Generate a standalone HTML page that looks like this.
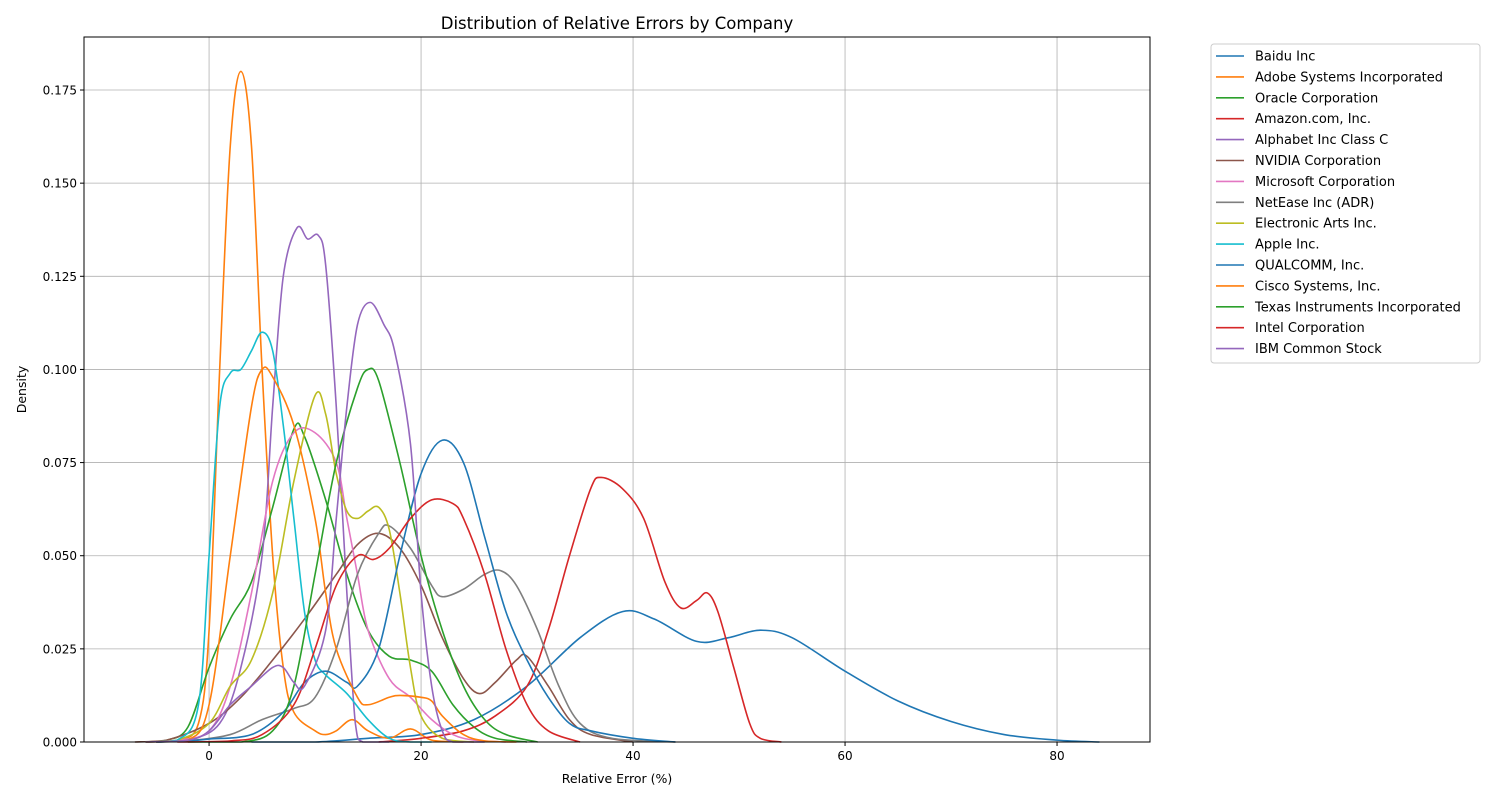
<!DOCTYPE html>
<html><head><meta charset="utf-8"><style>
body{margin:0;background:#fff;font-family:"DejaVu Sans","Liberation Sans",sans-serif}
svg text{font-family:"DejaVu Sans","Liberation Sans",sans-serif}
</style></head><body>
<svg id="chart" width="1500" height="800" xmlns="http://www.w3.org/2000/svg">
<rect width="1500" height="800" fill="#fff"/>
<g id="grid"></g><g id="series"></g><g id="axes"></g><g id="legend"></g>
</svg>
<script>
const companies=["Baidu Inc","Adobe Systems Incorporated","Oracle Corporation","Amazon.com, Inc.","Alphabet Inc Class C","NVIDIA Corporation","Microsoft Corporation","NetEase Inc (ADR)","Electronic Arts Inc.","Apple Inc.","QUALCOMM, Inc.","Cisco Systems, Inc.","Texas Instruments Incorporated","Intel Corporation","IBM Common Stock"];
const colors=["#1f77b4","#ff7f0e","#2ca02c","#d62728","#9467bd","#8c564b","#e377c2","#7f7f7f","#bcbd22","#17becf","#1f77b4","#ff7f0e","#2ca02c","#d62728","#9467bd"];
const xTicks=[0,20,40,60,80];
const yTicks=[0,0.025,0.05,0.075,0.1,0.125,0.15,0.175];
const yTickLabels=["0.000","0.025","0.050","0.075","0.100","0.125","0.150","0.175"];
const xs0=[4,10,15,20,25,30,35,39,42,46,49,52,55,60,65,70,75,80,84];
const ys0=[0,0,0.001,0.002,0.006,0.015,0.028,0.035,0.033,0.027,0.028,0.030,0.028,0.019,0.011,0.0055,0.002,0.0005,0];
const xs1=[-5,-3,-1,0,1,2,3,4,5,6,7,8,10,11,12,13.5,15,17,19,21,24];
const ys1=[0,0.0005,0.005,0.03,0.1,0.16,0.18,0.16,0.1,0.05,0.02,0.008,0.003,0.002,0.003,0.006,0.003,0.001,0.0035,0.0005,0];
const xs2=[-6,-4,-2,0,2,4,6,8,9,11,13,15,17,19,21,23,25,27,30];
const ys2=[0,0.0005,0.004,0.02,0.033,0.043,0.063,0.084,0.082,0.065,0.045,0.03,0.023,0.022,0.019,0.01,0.004,0.001,0];
const xs3=[16,20,24,27,30,32,34,36,37,39,41,43,44.5,46,47,48,49.5,51,52,54];
const ys3=[0,0.001,0.003,0.007,0.015,0.03,0.05,0.068,0.071,0.068,0.06,0.043,0.036,0.038,0.04,0.035,0.02,0.005,0.001,0];
const xs4=[-5,-2,1,3,5,6,7,8.3,9.3,10.3,11,12,13,13.8,14.5,17];
const ys4=[0,0.0005,0.005,0.02,0.05,0.09,0.125,0.138,0.135,0.136,0.128,0.09,0.04,0.005,0,0];
const xs5=[-7,-4,0,3,6,9,12,14,16,18,20,22,24,25.5,27,29,30,32,34,36,40];
const ys5=[0,0.0005,0.005,0.012,0.022,0.033,0.045,0.053,0.056,0.052,0.042,0.028,0.017,0.013,0.016,0.022,0.023,0.015,0.006,0.002,0];
const xs6=[-6,-3,0,2,4,6,8,10,12,13,14,15,17,19,21,23,25,28];
const ys6=[0,0.0005,0.003,0.015,0.04,0.07,0.083,0.083,0.075,0.06,0.045,0.03,0.017,0.012,0.006,0.002,0.0005,0];
const xs7=[-5,-2,2,5,8,10,12,14,16,17,19,21,22,24,26,27.5,29,31,33,35,38,44];
const ys7=[0,0.0003,0.002,0.006,0.009,0.012,0.025,0.045,0.056,0.058,0.052,0.042,0.039,0.041,0.045,0.046,0.042,0.03,0.015,0.005,0.001,0];
const xs8=[-6,-3,0,2,4,6,8,10,11,12,13,14,15,16,17,18,19,20,22,25];
const ys8=[0,0.0005,0.005,0.015,0.022,0.04,0.07,0.093,0.088,0.072,0.062,0.06,0.062,0.063,0.057,0.04,0.02,0.007,0.001,0];
const xs9=[-6,-3,-1,0,1,2,3,4,5,6,7,8,9,10,11,13,15,17,19,21];
const ys9=[0,0.0005,0.01,0.05,0.09,0.099,0.1,0.105,0.11,0.105,0.085,0.06,0.035,0.022,0.018,0.013,0.006,0.001,0,0];
const xs10=[-5,-2,0,4,7,9,11,13,14,16,18,20,22,24,26,28,30,32,34,36,40,44];
const ys10=[0,0.0003,0.0008,0.002,0.008,0.016,0.019,0.016,0.015,0.025,0.05,0.072,0.081,0.075,0.055,0.035,0.022,0.012,0.005,0.003,0.001,0];
const xs11=[-6,-2,0,2,4,5,6,8,10,11,12,14,15,17,18,20,21,22,24,26,29];
const ys11=[0,0.0005,0.01,0.05,0.09,0.1,0.098,0.085,0.06,0.04,0.025,0.012,0.01,0.012,0.0125,0.012,0.011,0.007,0.002,0.0003,0];
const xs12=[-2,3,6,8,10,12,14,15,16,18,20,22,24,26,28,31];
const ys12=[0,0,0.003,0.015,0.045,0.075,0.095,0.1,0.097,0.075,0.05,0.03,0.015,0.006,0.002,0];
const xs13=[-3,2,5,8,10,12,14,15.5,17,19,21,23,24,26,28,30,32,35];
const ys13=[0,0.0003,0.002,0.01,0.025,0.042,0.05,0.049,0.052,0.06,0.065,0.064,0.06,0.045,0.025,0.01,0.003,0];
const xs14=[-6,-2,0,2,4,6,7,8,9,11,12,13,14,15.2,16.5,17.5,19,20,21,22,23,26];
const ys14=[0,0.0005,0.003,0.01,0.015,0.02,0.02,0.016,0.015,0.03,0.06,0.09,0.112,0.118,0.112,0.105,0.08,0.04,0.015,0.003,0,0];
const seriesX=[xs0,xs1,xs2,xs3,xs4,xs5,xs6,xs7,xs8,xs9,xs10,xs11,xs12,xs13,xs14];
const seriesY=[ys0,ys1,ys2,ys3,ys4,ys5,ys6,ys7,ys8,ys9,ys10,ys11,ys12,ys13,ys14];

const L=84,R=1150,T=37,B=742;
const xMin=-11.8,xMax=88.77,yMin=0,yMax=0.18923;
const sx=v=>L+(v-xMin)/(xMax-xMin)*(R-L);
const sy=v=>B-(v-yMin)/(yMax-yMin)*(B-T);
const NS="http://www.w3.org/2000/svg";
function mk(tag,attrs,parent){const e=document.createElementNS(NS,tag);for(const k in attrs)e.setAttribute(k,attrs[k]);parent.appendChild(e);return e;}
const grid=document.getElementById('grid'),axes=document.getElementById('axes'),ser=document.getElementById('series'),leg=document.getElementById('legend');
xTicks.forEach(t=>{
  const g=mk('line',{x1:sx(t),x2:sx(t),y1:T,y2:B,stroke:'#b0b0b0','stroke-width':0.8},grid);
  
  
  mk('line',{x1:sx(t),x2:sx(t),y1:B,y2:B+4,stroke:'#000'},axes);
  const tx=mk('text',{x:sx(t),y:B+18,'text-anchor':'middle','font-size':12},axes);tx.textContent=t;
  
  
});
yTicks.forEach((t,i)=>{
  const g=mk('line',{x1:L,x2:R,y1:sy(t),y2:sy(t),stroke:'#b0b0b0','stroke-width':0.8},grid);
  
  
  mk('line',{x1:L-4,x2:L,y1:sy(t),y2:sy(t),stroke:'#000'},axes);
  const tx=mk('text',{x:L-7,y:sy(t)+4.5,'text-anchor':'end','font-size':12},axes);tx.textContent=yTickLabels[i];
  
  
});
const fr=mk('rect',{x:L,y:T,width:R-L,height:B-T,fill:'none',stroke:'#000','stroke-width':1},axes);


const ti=mk('text',{x:(L+R)/2,y:29,'text-anchor':'middle','font-size':16.5},axes);ti.textContent='Distribution of Relative Errors by Company';


const xl=mk('text',{x:(L+R)/2,y:783,'text-anchor':'middle','font-size':12.5},axes);xl.textContent='Relative Error (%)';


const yl=mk('text',{x:26,y:(T+B)/2,'text-anchor':'middle','font-size':12.5,transform:`rotate(-90 26 ${(T+B)/2})`},axes);yl.textContent='Density';



function pathFor(xs,ys){
  const p=xs.map((x,i)=>[sx(x),sy(ys[i])]);
  let d=`M${p[0][0]},${p[0][1]}`;
  for(let i=0;i<p.length-1;i++){
    const p0=p[Math.max(0,i-1)],p1=p[i],p2=p[i+1],p3=p[Math.min(p.length-1,i+2)];
    const c1x=p1[0]+(p2[0]-p0[0])/6,c1y=Math.min(B,p1[1]+(p2[1]-p0[1])/6);
    const c2x=p2[0]-(p3[0]-p1[0])/6,c2y=Math.min(B,p2[1]-(p3[1]-p1[1])/6);
    d+=` C${c1x},${c1y} ${c2x},${c2y} ${p2[0]},${p2[1]}`;
  }
  return d;
}
seriesX.forEach((xs,i)=>{
  const pth=mk('path',{d:pathFor(xs,seriesY[i]),fill:'none',stroke:colors[i],'stroke-width':1.6},ser);
  
  
});
const lb=mk('rect',{x:1211,y:44,width:269,height:319,rx:3,fill:'#fff',stroke:'#ccc'},leg);


companies.forEach((c,i)=>{
  const y=56+i*20.9;
  const ln=mk('line',{x1:1216,x2:1244,y1:y,y2:y,stroke:colors[i],'stroke-width':1.6},leg);
  
  
  const t=mk('text',{x:1255,y:y+4.5,'font-size':13},leg);t.textContent=c;
  
  
});
</script>
</body></html>
